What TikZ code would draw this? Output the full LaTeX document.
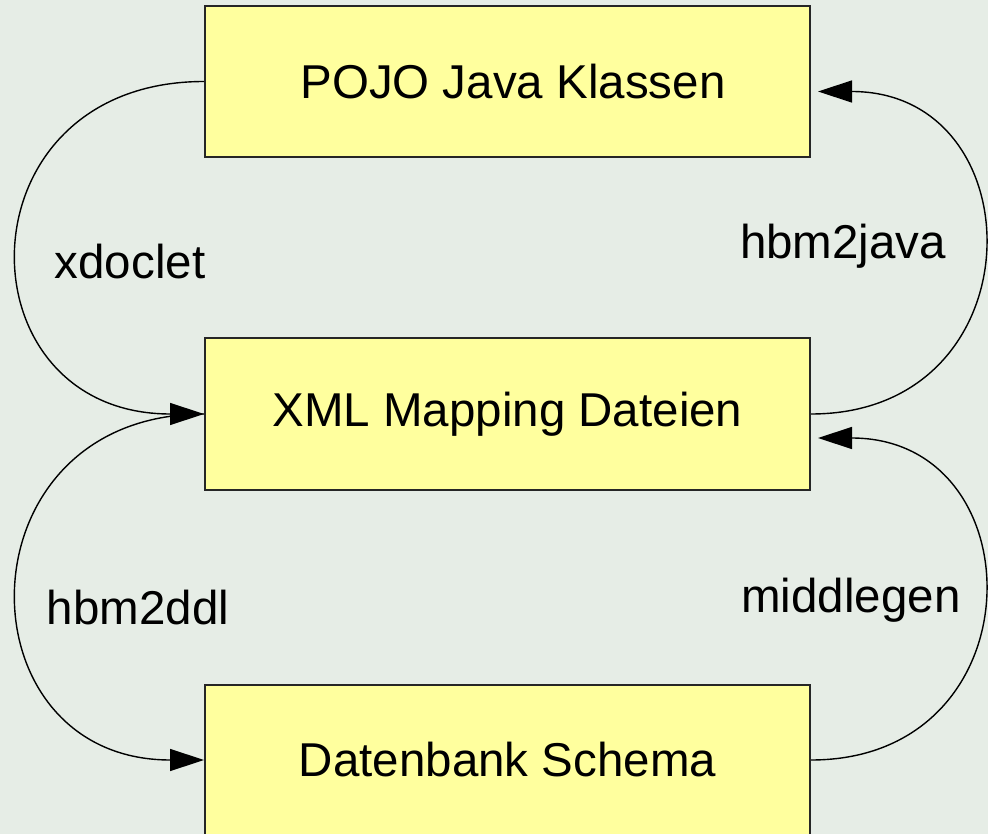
\documentclass[tikz,border=0pt]{standalone}
\usepackage{fontspec}
\setmainfont{Liberation Sans}
\usetikzlibrary{arrows.meta}
\definecolor{bgcol}{HTML}{E6EDE6}
\definecolor{boxcol}{HTML}{FFFF9E}
\begin{document}
\begin{tikzpicture}[x=1pt,y=-1pt,
  stage/.style={draw=black!85, line width=2pt, fill=boxcol,
    minimum width=605pt, minimum height=151pt, inner sep=0pt,
    font=\fontsize{47.5}{57}\selectfont},
  tool/.style={font=\fontsize{47.5}{57}\selectfont, inner sep=0pt},
  flow/.style={draw=black, line width=1.4pt,
    -{Triangle[length=34pt,width=22pt]}}]
  % canvas
  \useasboundingbox (0,0) rectangle (988,834);
  \fill[bgcol] (0,0) rectangle (988,834);
  \clip (0,0) rectangle (988,834);

  % stages
  \node[stage] (pojo) at (507.5,81.5) {\hspace*{11pt}POJO Java Klassen};
  \node[stage] (xml)  at (507.5,414)  {XML Mapping Dateien};
  \node[stage] (db)   at (507.5,760)  {Datenbank Schema};

  % end points beside the right edges
  \coordinate (pojoIn) at ([shift={(7,10)}]pojo.east);
  \coordinate (xmlIn)  at ([shift={(7,24)}]xml.east);

  % generators
  \draw[flow] (pojo.west) .. controls +(-247,0) and +(-247,0) .. (xml.west);
  \draw[flow] (xml.west)  .. controls +(-247,0) and +(-247,0) .. (db.west);
  \draw[flow] (xml.east)  .. controls +(228,0) and +(220,0) .. (pojoIn);
  \draw[flow] (db.east)   .. controls +(228,0) and +(220,0) .. (xmlIn);

  % labels
  \node[tool] (lx) at (130,262) {xdoclet};
  \node[tool] (lj) at (843,246) {hbm2java};
  \node[tool] (ld) at (138,608) {hbm2ddl};
  \node[tool] (lm) at (851,600) {middlegen};
\end{tikzpicture}
\end{document}
